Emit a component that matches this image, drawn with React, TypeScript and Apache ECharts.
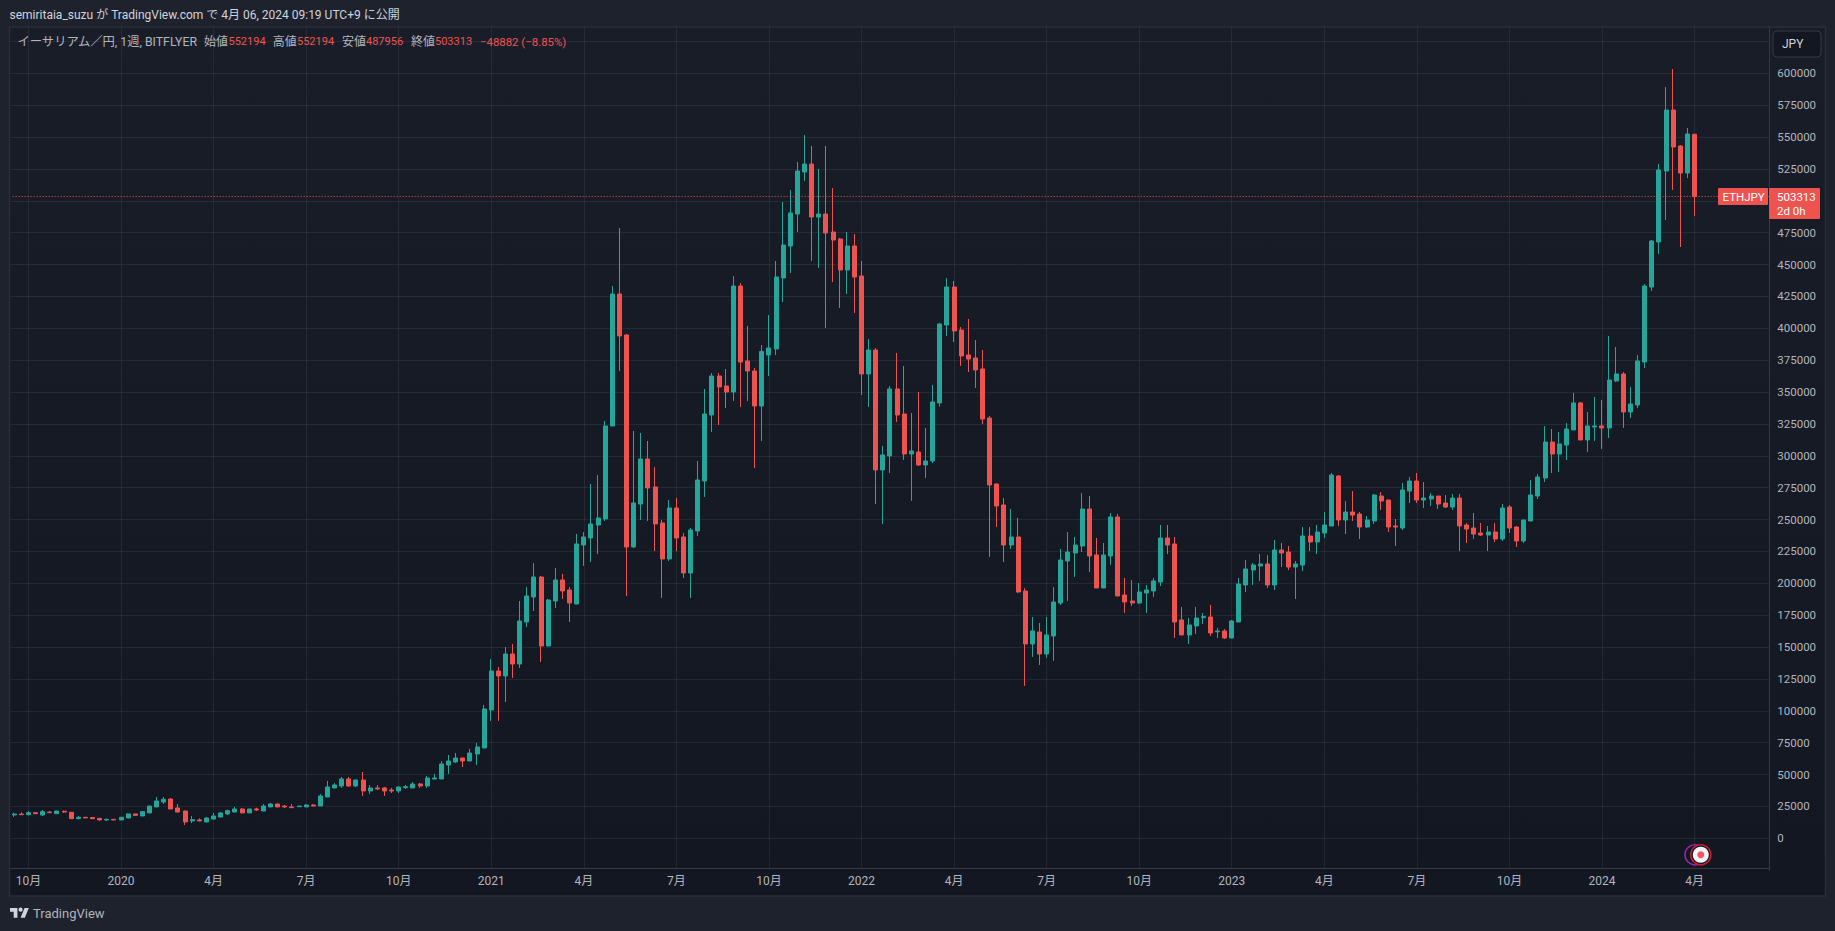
import React, { useEffect, useRef } from "react";
import * as echarts from "echarts";

const opens = [18300,19000,18500,20100,18300,20600,19300,21200,20400,15400,16500,16300,15700,14400,14900,14400,15900,19100,17500,19900,24600,28500,30800,23800,21400,13600,14400,12800,15100,16700,19100,20600,23000,19900,23000,21400,24600,26900,25300,24600,24800,24600,26100,
25365,32420,39480,41050,46540,41050,45750,37130,39480,39480,37900,37130,39700,39480,42600,41050,46500,46540,57500,59870,63000,60650,66140,70850,100650,131230,127300,144560,136720,169650,189270,204940,150830,186120,202620,194750,183800,230050,235550,245750,250450,323390,426900,394750,228500,262220,297510,275550,247320,219090,259080,236350,208110,241040,280260,332020,362600,354760,350050,433180,374360,366520,339070,379070,383780,439450,464550,489650,522580,528860,487290,489650,475530,470040,445730,464550,441030,364170,382990,288890,299860,352410,332800,301430,303000,292810,295950,341430,402600,432400,398680,379070,376720,368090,329670,277910,261420,230050,236320,193980,152420,161830,144570,158690,184560,217500,223780,229270,258280,222210,196330,221420,252010,190840,186130,184560,192400,193980,201030,235540,230840,171240,159470,166530,173000,173590,162000,162610,157120,169670,198680,210450,213600,215150,198680,226120,224560,212790,214360,237100,232400,239450,244950,284160,249650,255920,254350,244160,248870,268470,265330,244950,243370,272390,280230,265330,266120,268470,262980,259840,266900,245730,243370,239450,237890,240240,234750,259840,244160,233180,248870,268470,282590,310820,301410,308470,320260,341440,312420,322600,323400,321840,358690,364170,334380,339870,373590,432400,467690,523370,571210,542980,521800,552194];
const closes = [19000,18500,20100,19300,20900,20100,21400,20600,15400,16500,16000,15400,14400,14900,14400,16500,19100,18000,20900,25300,29300,30600,23000,20600,12800,14600,13600,15900,17500,19900,21700,23000,19900,23000,22200,25300,26900,24600,24600,24000,25300,26100,25300,
33207,40260,41830,46540,41050,45750,37130,39480,38700,37130,37130,40260,40500,42600,41050,47300,47300,58300,60650,63000,60650,66900,71630,101430,131230,127300,144560,136720,170440,190050,204950,150830,186900,202590,193990,184550,230860,236350,246540,251240,323390,426900,393970,228500,262990,297510,274770,246540,219090,259080,235550,208110,241830,281040,332800,362600,353970,350050,433180,373580,366520,339070,381860,384560,440240,465330,490430,523370,528860,487290,489650,474740,469260,445730,464550,440240,364170,382990,288890,300650,352410,332020,301430,303790,292810,295950,342220,403380,432400,397890,378290,375930,367310,328880,277130,260660,230050,236320,193190,152420,162610,144570,159470,185350,218290,224560,230050,258280,221420,196330,222210,252010,190060,185350,184560,193190,194760,201820,235540,230050,169670,159470,167310,172800,173900,161030,162600,157120,170450,199470,211230,214370,215150,198680,226130,223770,212790,215150,237100,232400,240240,245730,284940,249650,255920,253570,244160,249650,269260,264550,244160,244160,273180,280230,265330,266900,268470,262200,259840,266900,244950,242590,238670,237890,240240,234750,259060,243370,233180,249650,269260,283370,310820,301410,309250,321010,341440,312420,323400,323400,321840,359470,364170,334380,340650,374370,433190,468480,524160,571210,542190,521800,552390,503313];
const lows = [16700,18300,18000,19000,17500,19800,19200,19900,15300,14900,15900,15300,13600,13600,14300,14300,15900,17500,17500,19800,24500,26900,22900,20500,10400,12000,13500,12700,14900,16600,18300,20500,19800,19800,21400,21300,24500,24500,23800,23900,24700,24500,25200,
25300,32400,39400,39500,40260,40260,33200,34770,37900,33200,35500,35500,38700,39400,39480,39480,46400,46500,50450,59100,55950,60600,57500,70800,92020,92020,106920,125740,133580,165740,178280,138280,150800,180630,187720,169650,183500,213600,216740,222990,248900,323300,366520,190060,227720,249680,248900,225360,188500,217520,225360,204190,188500,237120,267710,318680,324180,337510,342990,338290,342990,290450,311630,362600,379070,420640,443380,475530,515520,452790,447300,400250,436320,415930,426900,412010,347700,338290,262220,246540,286540,326530,296730,264590,292020,282620,294380,338550,394000,389260,370440,365740,353190,325000,220640,244170,216720,226910,192400,119480,142220,135950,141440,139080,183000,186130,204960,224560,208880,196300,196300,214370,190000,176730,182210,183780,176730,189270,197900,223000,157120,159400,152420,160250,168100,158690,157120,156330,157000,169600,193190,198680,201820,196340,194760,212790,210440,187700,209650,225340,222990,235540,244900,244950,238670,248870,234750,243370,246510,257490,240240,229260,241800,262980,262980,259060,260630,258280,259060,257490,225340,231610,234750,237100,225340,232400,233180,239450,228480,231610,248800,266120,279450,286510,287290,296700,320200,312300,303020,311630,305360,313980,358000,321840,329680,337510,368880,429260,458290,484950,508470,463770,517880,487956];
const highs = [20100,20400,21400,20600,22200,21400,21600,21700,20500,17500,16600,16400,15800,15400,15000,16600,19600,19200,21400,25500,32400,32400,31400,26900,21700,17500,15700,16700,19900,20600,22500,24600,23800,23100,24000,26900,27700,27400,26100,26900,25400,26900,26900,
34775,44970,43400,48100,48100,45800,52030,41830,41830,40260,39480,40300,41830,44200,43400,48900,50450,60650,65350,66900,63100,70060,74770,104570,140640,134370,150050,152400,186130,197100,215930,205720,187690,212030,207330,197140,238700,240260,277900,284970,327310,433180,478660,395500,319470,317900,311630,291240,249680,265360,266930,239480,243400,295940,352400,364950,364950,368090,441020,435530,401810,368880,386910,410440,452790,499050,508460,530420,551600,542970,524940,542970,510030,470830,475530,473960,452790,391630,384560,307700,354760,380640,370440,333580,350050,321830,355550,404000,439450,437100,401030,407300,390830,383000,331240,278000,266910,258280,251220,196340,173590,168880,173590,197110,226910,240250,236320,270830,268480,235540,231620,255150,254360,204170,202600,200250,198680,204170,245740,245740,236320,181430,172800,181430,176730,183000,164960,164170,171200,204170,218290,215940,222990,222210,233970,231610,229260,217500,244160,244160,245730,255920,286510,284940,264550,272390,255920,252790,270030,271610,265400,250430,278670,283370,286510,279450,270820,268500,269260,270030,270030,247300,255140,247300,244950,247300,262200,261400,244950,249700,281020,285720,323360,321010,318660,325710,349280,342220,334380,346120,343790,393970,385340,365750,353990,379080,434750,469260,528860,589240,603360,543760,557100,552194];

const tickIndexes = [2,15,28,41,54,67,80,93,106,119,132,145,158,171,184,197,210,223,236];
const tickLabels = ["10月","2020","4月","7月","10月","2021","4月","7月","10月","2022","4月","7月","10月","2023","4月","7月","10月","2024","4月"];
const barCount = 247;
const lastPrice = 503313;
const titleText = "semiritaia_suzu が TradingView.com で 4月 06, 2024 09:19 UTC+9 に公開";

const UP = "#26a69a";
const DOWN = "#ef5350";
const FONT = "Roboto, 'Noto Sans CJK JP', sans-serif";

echarts.graphic.registerShape(
  "tvlogo",
  echarts.graphic.extendPath(
    "M14 22H7V11H0V4h14zM28 22h-8l7.5-18h8zM20 7m-4 0a4 4 0 1 0 8 0a4 4 0 1 0-8 0z",
    {}
  )
);

export default function App() {
  const ref = useRef<HTMLDivElement>(null);
  useEffect(() => {
    document.body.style.margin = "0";
    document.body.style.background = "#1e222d";
    const chart = echarts.init(ref.current!, undefined, { renderer: "svg" });
    const categories = Array.from({ length: barCount }, (_, i) => String(i));
    const ohlc = opens.map((o, i) => [o, closes[i], lows[i], highs[i]]);
    const isTick = (idx: number) => tickIndexes.includes(idx);

    const txt = (x: number, y: number, text: string, fill: string, fontSize = 11, extra: any = {}) => ({
      type: "text",
      x,
      y,
      z: 60,
      silent: true,
      style: { text, fill, fontSize, fontFamily: FONT, verticalAlign: "middle", ...extra },
    });

    chart.setOption({
      animation: false,
      backgroundColor: "#1e222d",
      grid: { left: 10.64, top: 27, width: 1758.64, height: 843.175, containLabel: false },
      xAxis: {
        type: "category",
        data: categories,
        offset: -2,
        boundaryGap: true,
        axisLine: { show: true, onZero: false, lineStyle: { color: "#363a45", width: 1 } },
        axisTick: { show: false },
        axisLabel: {
          interval: (idx: number) => isTick(idx),
          formatter: (_v: string, idx: number) => {
            const k = tickIndexes.indexOf(idx);
            return k >= 0 ? tickLabels[k] : "";
          },
          color: "#b2b5be",
          fontSize: 12,
          fontFamily: FONT,
          margin: 7,
          hideOverlap: false,
        },
        splitLine: {
          show: true,
          alignWithLabel: true,
          interval: (idx: number) => isTick(idx),
          lineStyle: { color: "rgba(240,243,250,0.07)", width: 1 },
        },
      },
      yAxis: {
        type: "value",
        position: "right",
        min: -25000,
        max: 636314,
        interval: 25000,
        scale: false,
        axisLine: { show: true, onZero: false, lineStyle: { color: "#363a45", width: 1 } },
        axisTick: { show: false },
        axisLabel: {
          showMinLabel: false,
          showMaxLabel: false,
          formatter: (v: number) => String(v),
          color: "#b2b5be",
          fontSize: 11.5,
          fontFamily: FONT,
          margin: 8,
          align: "left",
        },
        splitLine: {
          show: true,
          showMinLine: false,
          showMaxLine: false,
          lineStyle: { color: "rgba(240,243,250,0.07)", width: 1 },
        },
      },
      series: [
        {
          type: "candlestick",
          data: ohlc,
          barWidth: 4.5,
          large: false,
          itemStyle: {
            color: UP,
            color0: DOWN,
            borderColor: UP,
            borderColor0: DOWN,
            borderWidth: 1,
          },
          markLine: {
            silent: true,
            symbol: "none",
            label: { show: false },
            lineStyle: { color: DOWN, type: [1, 2], dashOffset: 0.64, width: 1 },
            data: [{ yAxis: lastPrice }],
          },
        },
      ],
      graphic: {
        elements: [
          {
            type: "rect",
            z: -10,
            silent: true,
            shape: { x: 9.5, y: 27, width: 1816, height: 869 },
            style: {
              fill: new echarts.graphic.LinearGradient(0, 0, 0, 1, [
                { offset: 0, color: "#191d28" },
                { offset: 1, color: "#131722" },
              ]),
              stroke: "#2a2e39",
              lineWidth: 1.5,
            },
          },
          {
            type: "rect",
            z: 50,
            silent: true,
            shape: { x: 11, y: 869, width: 1758, height: 2.2 },
            style: { fill: "#131722" },
          },
          txt(9.5, 15, titleText, "#d1d4dc", 12),
          txt(17.5, 41.5, "イーサリアム／円, 1週, BITFLYER", "#b2b5be", 12.3),
          txt(204, 41.5, "始値", "#b2b5be", 12),
          txt(228.5, 41.5, "552194", DOWN),
          txt(272.7, 41.5, "高値", "#b2b5be", 12),
          txt(297, 41.5, "552194", DOWN),
          txt(342, 41.5, "安値", "#b2b5be", 12),
          txt(366, 41.5, "487956", DOWN),
          txt(411, 41.5, "終値", "#b2b5be", 12),
          txt(435, 41.5, "503313", DOWN),
          txt(480, 41.5, "−48882 (−8.85%)", DOWN, 11.4),
          {
            type: "rect",
            z: 55,
            silent: true,
            shape: { x: 1773, y: 31, width: 48, height: 26, r: 4 },
            style: { fill: "#131722", stroke: "#363a45", lineWidth: 1 },
          },
          txt(1782, 44, "JPY", "#d1d4dc", 12),
          {
            type: "rect",
            z: 55,
            silent: true,
            shape: { x: 1718, y: 188, width: 50, height: 17, r: 1 },
            style: { fill: DOWN },
          },
          {
            type: "rect",
            z: 55,
            silent: true,
            shape: { x: 1769, y: 188, width: 51, height: 31, r: 1 },
            style: { fill: DOWN },
          },
          txt(1722.5, 197, "ETHJPY", "#ffffff", 11.5),
          txt(1777, 197, "503313", "#ffffff", 11.5),
          txt(1777, 211, "2d 0h", "#ffffff", 11.5),
          {
            type: "circle",
            z: 55,
            silent: true,
            shape: { cx: 1695, cy: 854.8, r: 10 },
            style: { fill: "#131722", stroke: "#9c27b0", lineWidth: 1.5 },
          },
          {
            type: "circle",
            z: 56,
            silent: true,
            shape: { cx: 1700.8, cy: 854.8, r: 10 },
            style: { fill: "#131722", stroke: "#d3202f", lineWidth: 1.5 },
          },
          {
            type: "circle",
            z: 57,
            silent: true,
            shape: { cx: 1700.8, cy: 854.8, r: 8 },
            style: { fill: "#f0f3fa" },
          },
          {
            type: "circle",
            z: 58,
            silent: true,
            shape: { cx: 1700.8, cy: 854.8, r: 3.5 },
            style: { fill: "#f7525f" },
          },
          {
            type: "tvlogo",
            z: 60,
            silent: true,
            x: 10,
            y: 906,
            scaleX: 0.53,
            scaleY: 0.53,
            style: { fill: "#d1d4dc" },
          },
          txt(33, 913.5, "TradingView", "#b2b5be", 13),
        ],
      },
    });
    return () => chart.dispose();
  }, []);
  return <div ref={ref} style={{ position: "absolute", left: 0, top: 0, width: 1835, height: 931 }} />;
}
